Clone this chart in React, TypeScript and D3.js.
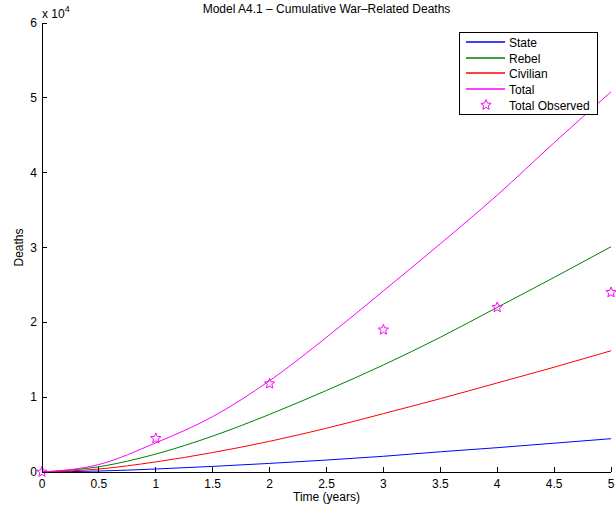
import React from "react";
import * as d3 from "d3";

const years = [0, 0.5, 1, 1.5, 2, 2.5, 3, 3.5, 4, 4.5, 5];
const stateDeaths = [0, 130, 400, 750, 1150, 1600, 2100, 2700, 3250, 3850, 4450];
const rebelDeaths = [0, 700, 2400, 4800, 7700, 10900, 14300, 18000, 22000, 26000, 30100];
const civilianDeaths = [0, 400, 1350, 2600, 4100, 5850, 7800, 9800, 11900, 14000, 16200];
const totalDeaths = [0, 1000, 3900, 7400, 12200, 18000, 24200, 30500, 37000, 44000, 50800];

const observedYears = [0, 1, 2, 3, 4, 5];
const observedTotal = [0, 4500, 11800, 19000, 22000, 24000];

const xTicks = [0, 0.5, 1, 1.5, 2, 2.5, 3, 3.5, 4, 4.5, 5];
const yTicks = [0, 1, 2, 3, 4, 5, 6];

const seriesNames = ["State", "Rebel", "Civilian", "Total"];
const seriesColors = ["#0000ff", "#008000", "#ff0000", "#ff00ff"];
const seriesData = [stateDeaths, rebelDeaths, civilianDeaths, totalDeaths];

const W = 616;
const H = 505;
const L = 42;
const R = 611;
const T = 23;
const B = 472;
const FONT = "'Liberation Sans', Arial, Helvetica, sans-serif";

function starPath(cx: number, cy: number, ro: number, ri: number) {
  const pts: string[] = [];
  for (let i = 0; i < 10; i++) {
    const a = -Math.PI / 2 + (i * Math.PI) / 5;
    const r = i % 2 === 0 ? ro : ri;
    pts.push(`${(cx + r * Math.cos(a)).toFixed(2)},${(cy + r * Math.sin(a)).toFixed(2)}`);
  }
  return "M" + pts.join("L") + "Z";
}

export default function App() {
  const x = d3.scaleLinear().domain([0, 5]).range([L, R]);
  const y = d3.scaleLinear().domain([0, 60000]).range([B, T]);
  const line = d3
    .line<number>()
    .x((_, i) => x(years[i]))
    .y((d) => y(d))
    .curve(d3.curveMonotoneX);

  const legX = 459;
  const legY = 32;
  const legW = 138;
  const legH = 82;
  const rowY = [42, 58, 73, 89, 105];

  return (
    <svg
      width={W}
      height={H}
      style={{ position: "absolute", left: 0, top: 0, background: "#fff" }}
      fontFamily={FONT}
    >
      <rect x={0} y={0} width={W} height={H} fill="#fff" />
      {seriesData.map((s, k) => (
        <path key={k} d={line(s) || ""} fill="none" stroke={seriesColors[k]} strokeWidth={1} />
      ))}
      {observedYears.map((t, i) => (
        <path
          key={i}
          d={starPath(x(t), y(observedTotal[i]), 5.4, 2.4)}
          fill="none"
          stroke="#ff00ff"
          strokeWidth={1}
        />
      ))}
      <line x1={L} x2={L} y1={T} y2={B} stroke="#000" strokeWidth={1} shapeRendering="crispEdges" />
      <line x1={L} x2={R} y1={B} y2={B} stroke="#000" strokeWidth={1} shapeRendering="crispEdges" />
      {xTicks.map((t) => (
        <g key={"x" + t}>
          <line x1={x(t)} x2={x(t)} y1={B} y2={B - 5} stroke="#000" shapeRendering="crispEdges" />
          <text x={x(t)} y={B + 16} textAnchor="middle" fontSize={12}>
            {String(t)}
          </text>
        </g>
      ))}
      {yTicks.map((t) => (
        <g key={"y" + t}>
          <line x1={L} x2={L + 5} y1={y(t * 10000)} y2={y(t * 10000)} stroke="#000" shapeRendering="crispEdges" />
          <text x={L - 5} y={y(t * 10000) + 4} textAnchor="end" fontSize={12}>
            {String(t)}
          </text>
        </g>
      ))}
      <text x={L} y={18} fontSize={12}>
        x 10
        <tspan dy={-6} fontSize={9}>
          4
        </tspan>
      </text>
      <text x={(L + R) / 2} y={13} textAnchor="middle" fontSize={12}>
        Model A4.1 – Cumulative War–Related Deaths
      </text>
      <text x={(L + R) / 2} y={501} textAnchor="middle" fontSize={12}>
        Time (years)
      </text>
      <text transform={`translate(23,${(T + B) / 2}) rotate(-90)`} textAnchor="middle" fontSize={12}>
        Deaths
      </text>
      <rect x={legX} y={legY} width={legW} height={legH} fill="#fff" stroke="#000" strokeWidth={1} shapeRendering="crispEdges" />
      {seriesNames.map((n, k) => (
        <g key={n}>
          <line x1={466} x2={505} y1={rowY[k]} y2={rowY[k]} stroke={seriesColors[k]} strokeWidth={1.3} />
          <text x={509} y={rowY[k] + 4.5} fontSize={12}>
            {n}
          </text>
        </g>
      ))}
      <path d={starPath(486, rowY[4], 5.4, 2.4)} fill="none" stroke="#ff00ff" strokeWidth={1} />
      <text x={509} y={rowY[4] + 4.5} fontSize={12}>
        Total Observed
      </text>
    </svg>
  );
}
